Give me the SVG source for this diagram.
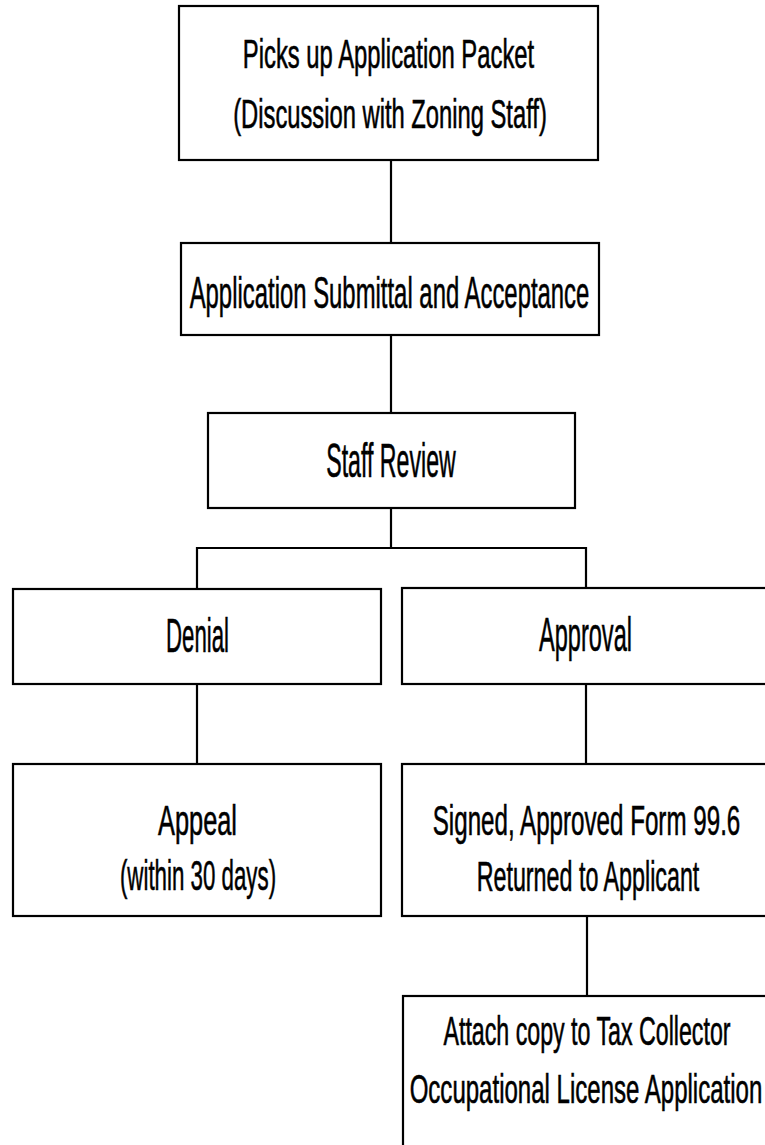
<svg xmlns="http://www.w3.org/2000/svg" width="765" height="1145" viewBox="0 0 765 1145">
  <style>
    .box { fill: #ffffff; stroke: #000000; stroke-width: 2.2; }
    .wire { fill: none; stroke: #000000; stroke-width: 2.2; }
    .lbl { font-family: "Liberation Sans", Arial, sans-serif; text-anchor: middle; fill: #000000; stroke: #000000; stroke-width: 0.6; }
  </style>
  <rect x="0" y="0" width="765" height="1145" fill="#ffffff"/>

  <!-- connectors -->
  <g id="connectors">
    <line class="wire" x1="391" y1="160" x2="391" y2="243"/>
    <line class="wire" x1="391" y1="335" x2="391" y2="413"/>
    <line class="wire" x1="391" y1="508" x2="391" y2="548"/>
    <polyline class="wire" points="197,589 197,548 586,548 586,588"/>
    <line class="wire" x1="197" y1="684" x2="197" y2="764"/>
    <line class="wire" x1="586" y1="684" x2="586" y2="764"/>
    <line class="wire" x1="587" y1="916" x2="587" y2="996"/>
  </g>

  <!-- step 1 -->
  <g id="pickup">
    <rect class="box" x="179" y="6" width="419" height="154"/>
    <text class="lbl" font-size="40" transform="translate(388.5,68) scale(0.596,1)">Picks up Application Packet</text>
    <text class="lbl" font-size="40" transform="translate(390,128) scale(0.594,1)">(Discussion with Zoning Staff)</text>
  </g>

  <!-- step 2 -->
  <g id="submittal">
    <rect class="box" x="181" y="243" width="418" height="92"/>
    <text class="lbl" font-size="45" transform="translate(389.5,308) scale(0.531,1)">Application Submittal and Acceptance</text>
  </g>

  <!-- step 3 -->
  <g id="review">
    <rect class="box" x="208" y="413" width="367" height="95"/>
    <text class="lbl" font-size="48" transform="translate(391,477) scale(0.4825,1)">Staff Review</text>
  </g>

  <!-- outcomes -->
  <g id="denial">
    <rect class="box" x="13" y="589" width="368" height="95"/>
    <text class="lbl" font-size="48" transform="translate(197.5,652) scale(0.463,1)">Denial</text>
  </g>

  <g id="approval">
    <rect class="box" x="402" y="588" width="368" height="96"/>
    <text class="lbl" font-size="48" transform="translate(585.5,651) scale(0.491,1)">Approval</text>
  </g>

  <g id="appeal">
    <rect class="box" x="13" y="764" width="368" height="152"/>
    <text class="lbl" font-size="42" transform="translate(197.5,835) scale(0.604,1)">Appeal</text>
    <text class="lbl" font-size="42" transform="translate(198,890) scale(0.531,1)">(within 30 days)</text>
  </g>

  <g id="signed">
    <rect class="box" x="402" y="764" width="368" height="152"/>
    <text class="lbl" font-size="42" transform="translate(586.5,835) scale(0.5755,1)">Signed, Approved Form 99.6</text>
    <text class="lbl" font-size="42" transform="translate(588,891) scale(0.5546,1)">Returned to Applicant</text>
  </g>

  <g id="attach">
    <rect class="box" x="403" y="996" width="368" height="200"/>
    <text class="lbl" font-size="40" transform="translate(587,1045) scale(0.58,1)">Attach copy to Tax Collector</text>
    <text class="lbl" font-size="40" transform="translate(586,1103) scale(0.601,1)">Occupational License Application</text>
  </g>
</svg>
